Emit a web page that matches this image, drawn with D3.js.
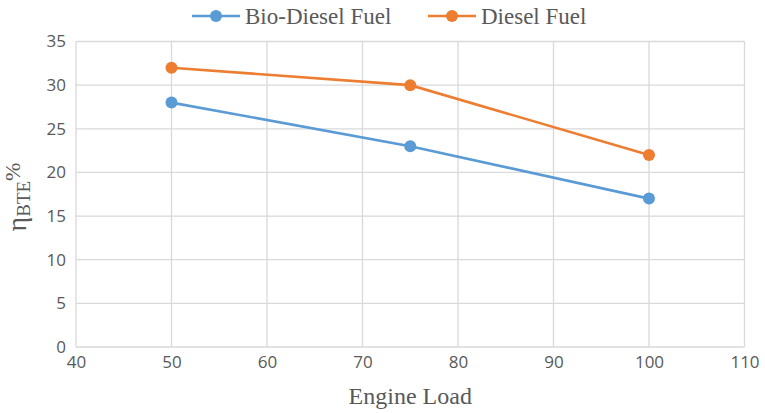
<!DOCTYPE html>
<html>
<head>
<meta charset="utf-8">
<script src="https://cdn.jsdelivr.net/npm/d3@7"></script>
<style>
    body { margin: 0; background: #fff; }
    .tick text { font-family: "Open Sans", sans-serif; fill: #595959; }
</style>
</head>
<body>
<div id="chart"></div>
<script>
    // chart values
    var loads = [50, 75, 100];
    var bioDiesel = [28, 23, 17];
    var diesel = [32, 30, 22];
    var seriesNames = ['Bio-Diesel Fuel', 'Diesel Fuel'];
    var xTicks = [40, 50, 60, 70, 80, 90, 100, 110];
    var yTicks = [0, 5, 10, 15, 20, 25, 30, 35];

    var colors = ['#5B9BD5', '#ED7D31'];
    var totalWidth = 765, totalHeight = 413;
    var margin = {top: 41.5, right: 20.5, bottom: 66, left: 76};
    var width = totalWidth - margin.left - margin.right;
    var height = totalHeight - margin.top - margin.bottom;

    var svg = d3.select('#chart').append('svg')
        .attr('width', totalWidth)
        .attr('height', totalHeight);

    var g = svg.append('g')
        .attr('transform', 'translate(' + margin.left + ',' + margin.top + ')');

    var x = d3.scaleLinear().domain([40, 110]).range([0, width]);
    var y = d3.scaleLinear().domain([0, 35]).range([height, 0]);

    // grid lines
    g.append('g')
        .selectAll('line.h')
        .data(yTicks)
        .enter().append('line')
        .attr('x1', 0).attr('x2', width)
        .attr('y1', function (d) { return y(d); })
        .attr('y2', function (d) { return y(d); })
        .style('stroke', '#D9D9D9').style('stroke-width', 1.3);

    g.append('g')
        .selectAll('line.v')
        .data(xTicks)
        .enter().append('line')
        .attr('y1', 0).attr('y2', height)
        .attr('x1', function (d) { return x(d); })
        .attr('x2', function (d) { return x(d); })
        .style('stroke', '#D9D9D9').style('stroke-width', 1.3);

    // axes (labels only, grid draws lines)
    var xAxis = g.append('g')
        .attr('transform', 'translate(0,' + height + ')')
        .call(d3.axisBottom(x).tickValues(xTicks).tickSize(0).tickPadding(9));
    xAxis.select('.domain').remove();
    xAxis.selectAll('text').style('font-size', '17px');

    var yAxis = g.append('g')
        .call(d3.axisLeft(y).tickValues(yTicks).tickSize(0).tickPadding(10));
    yAxis.select('.domain').remove();
    yAxis.selectAll('text').style('font-size', '17px');

    // lines and markers
    var series = [bioDiesel, diesel];
    var line = d3.line()
        .x(function (d, i) { return x(loads[i]); })
        .y(function (d) { return y(d); });

    series.forEach(function (values, s) {
        g.append('path')
            .datum(values)
            .attr('d', line)
            .style('fill', 'none')
            .style('stroke', colors[s])
            .style('stroke-width', 2.6);

        g.selectAll('.dot' + s)
            .data(values)
            .enter().append('circle')
            .attr('cx', function (d, i) { return x(loads[i]); })
            .attr('cy', function (d) { return y(d); })
            .attr('r', 6)
            .style('fill', colors[s]);
    });

    // legend
    var legendX = [192, 428];
    seriesNames.forEach(function (name, s) {
        var lg = svg.append('g').attr('transform', 'translate(' + legendX[s] + ',16)');
        lg.append('line')
            .attr('x1', 0).attr('x2', 48)
            .style('stroke', colors[s]).style('stroke-width', 2.6);
        lg.append('circle')
            .attr('cx', 24).attr('r', 6)
            .style('fill', colors[s]);
        lg.append('text')
            .attr('x', 53)
            .attr('dy', '0.35em')
            .style('font-family', '"Liberation Serif", "Times New Roman", serif')
            .style('font-size', '23px')
            .style('fill', '#595959')
            .text(name);
    });

    // axis titles
    svg.append('text')
        .attr('x', margin.left + width / 2)
        .attr('y', 404)
        .attr('text-anchor', 'middle')
        .style('font-family', '"Liberation Serif", "Times New Roman", serif')
        .style('font-size', '24px')
        .style('fill', '#595959')
        .text('Engine Load');

    var yTitle = svg.append('text')
        .attr('transform', 'translate(26,197) rotate(-90)')
        .attr('text-anchor', 'middle')
        .style('font-family', '"Liberation Serif", "Times New Roman", serif')
        .style('fill', '#595959');
    yTitle.append('tspan').style('font-size', '28px').text('η');
    yTitle.append('tspan').style('font-size', '19px').attr('dy', 4).text('BTE');
    yTitle.append('tspan').style('font-size', '22px').attr('dy', -10).text('%');
</script>
</body>
</html>
